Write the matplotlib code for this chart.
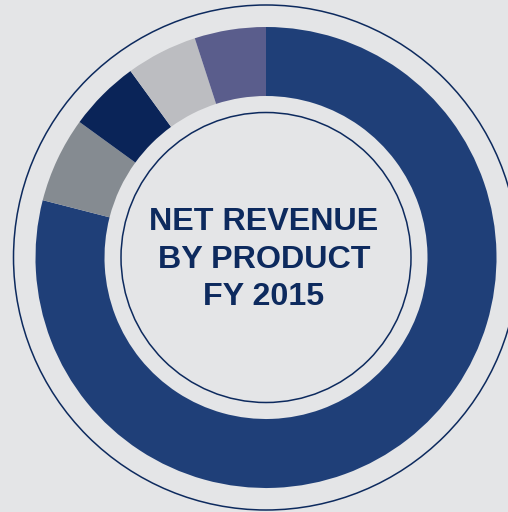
import matplotlib.pyplot as plt
from matplotlib.patches import Circle

# ---------------- DATA ----------------
products = ["Product A", "Product B", "Product C", "Product D", "Product E"]
share = [79, 6, 5, 5, 5]
colors = ["#1f3f78", "#858b91", "#0a2458", "#bcbdc1", "#5a5d8c"]
title_lines = ["NET REVENUE", "BY PRODUCT", "FY 2015"]

# ---------------- LAYOUT (pixels) ----------------
W, H = 508, 512
cx, cy = 266, H - 257.5
r_out, r_in = 230.5, 161.5
navy = "#0d2a5e"
bg = "#e4e5e7"

fig = plt.figure(figsize=(W / 100, H / 100), dpi=100, facecolor=bg)
ax = fig.add_axes([0, 0, 1, 1])
ax.set_facecolor(bg)

ax.pie(share, colors=colors, startangle=90, counterclock=False,
       center=(cx, cy), radius=r_out,
       wedgeprops=dict(width=r_out - r_in, linewidth=0))

# thin rings
ax.add_patch(Circle((cx, cy), 252.5, fill=False, edgecolor=navy, linewidth=1.1))
ax.add_patch(Circle((cx, cy), 145, fill=False, edgecolor=navy, linewidth=1.1))

for i, line in enumerate(title_lines):
    ax.text(264, H - (222 + i * 37.5), line, ha="center", va="center",
            fontsize=23.2, fontweight="bold", color=navy,
            family=["Liberation Sans", "DejaVu Sans"])

ax.set_xlim(0, W)
ax.set_ylim(0, H)
ax.set_aspect("equal")
ax.axis("off")

fig.savefig("out.png", dpi=100, facecolor=bg)
